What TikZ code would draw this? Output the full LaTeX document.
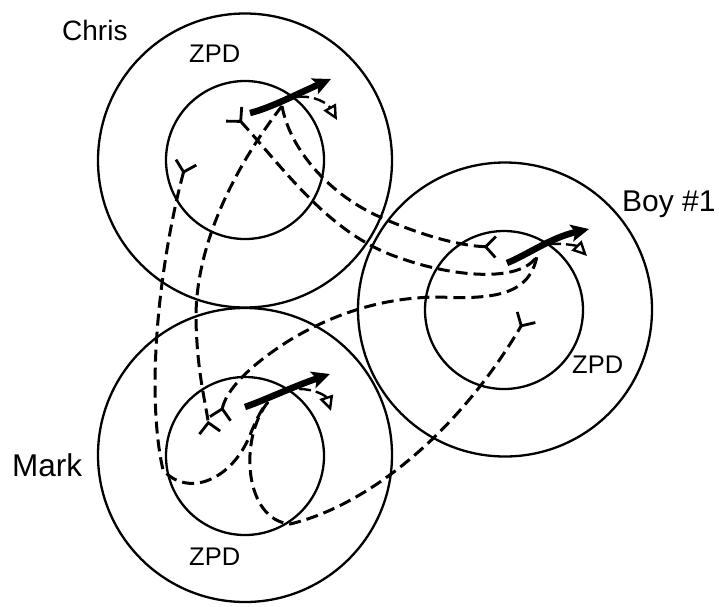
\documentclass[tikz,border=0pt]{standalone}
\usepackage{fontspec}
\setmainfont{Liberation Sans}
\usetikzlibrary{arrows.meta}
\tikzset{
  ytail/.tip={Straight Barb[reversed, length=10pt, width=21pt, line width=2.8pt]},
  opentri/.tip={Triangle[open, length=15pt, width=14pt, line width=2.4pt]},
  bighead/.tip={Stealth[length=18pt, width=17pt, inset=4pt]},
}
\begin{document}
\begin{tikzpicture}[x=1pt,y=-1pt,
  ring/.style={draw, circle, line width=2.3pt, inner sep=0pt},
  outerring/.style={ring, minimum size=294pt},
  innerring/.style={ring, minimum size=158pt},
  dashlink/.style={line width=3pt, dash pattern=on 12pt off 6pt},
  thickarrow/.style={line width=6.5pt, -{bighead}},
  smallarc/.style={line width=2.4pt, dash pattern=on 12pt off 5pt, -{opentri}},
  lbl/.style={inner sep=0pt, anchor=base west},
]
\useasboundingbox (0,0) rectangle (719,606);

% circles
\node[outerring] (chrisO) at (245,160.5) {};
\node[innerring] (chrisI) at (245,160) {};
\node[outerring] (markO) at (245,455) {};
\node[innerring] (markI) at (245,456) {};
\node[outerring] (boyO) at (505,309.5) {};
\node[innerring] (boyI) at (504,310) {};

% labels
\node[lbl, font=\fontsize{28}{28}\selectfont] (chrisName) at (62,40) {Chris};
\node[lbl, font=\fontsize{25.5}{25.5}\selectfont] (chrisZPD) at (189,62) {ZPD};
\node[lbl, font=\fontsize{30}{30}\selectfont] (boyName) at (622,211) {Boy \#1};
\node[lbl, font=\fontsize{25.5}{25.5}\selectfont] (boyZPD) at (572,373) {ZPD};
\node[lbl, font=\fontsize{31.5}{31.5}\selectfont] (markName) at (12,476) {Mark};
\node[lbl, font=\fontsize{25.5}{25.5}\selectfont] (markZPD) at (189,565) {ZPD};

% key points: Chris
\coordinate (cA) at (250,113);
\coordinate (cT) at (331,79);
\coordinate (cE) at (282,106);
\coordinate (cY1) at (233,113);
\coordinate (cY2) at (186.5,161);
\coordinate (cS) at (297,97);
\coordinate (cTri) at (337,120);
% Mark
\coordinate (mA) at (245,407);
\coordinate (mT) at (330,374);
\coordinate (mE) at (268,402);
\coordinate (mY1) at (210,434);
\coordinate (mY2) at (220,420);
\coordinate (mS) at (299,389);
\coordinate (mTri) at (331,411);
% Boy
\coordinate (bA) at (507,263);
\coordinate (bT) at (589,229);
\coordinate (bE) at (537,256);
\coordinate (bY1) at (497,247);
\coordinate (bY2) at (527,316);
\coordinate (bS) at (549,244);
\coordinate (bTri) at (587,256);

% dashed connectors
% Chris (left Y) <- Mark arrow
\draw[dashlink, {ytail}-] (cY2) .. controls (160,260) and (145,390) .. (163,470)
  .. controls (188,498) and (232,480) .. (250,435)
  .. controls (257,418) and (262,408) .. (mE);
% Chris arrow -> Mark Y1
\draw[dashlink, -{ytail}] (cE) .. controls (240,160) and (195,240) .. (196,320)
  .. controls (197,370) and (205,400) .. (mY1);
% Chris arrow -> Boy upper Y
\draw[dashlink, -{ytail}] (cE) .. controls (290,150) and (330,195) .. (380,217)
  .. controls (420,235) and (460,246) .. (bY1);
% Chris upper Y <- Boy arrow
\draw[dashlink, {ytail}-] (cY1) .. controls (285,170) and (330,235) .. (400,258)
  .. controls (450,276) and (520,284) .. (bE);
% Mark Y2 <- Boy arrow
\draw[dashlink, {ytail}-] (mY2) .. controls (226,390) and (250,365) .. (290,340)
  .. controls (340,310) and (390,297) .. (440,297)
  .. controls (500,300) and (530,292) .. (bE);
% Mark arrow -> Boy lower Y
\draw[dashlink, -{ytail}] (mE) .. controls (238,440) and (245,520) .. (290,524)
  .. controls (370,505) and (460,430) .. (bY2);

% small open-triangle arcs
\draw[smallarc] (cS) .. controls (315,95) and (328,104) .. (cTri);
\draw[smallarc] (mS) .. controls (315,389) and (326,396) .. (mTri);
\draw[smallarc] (bS) .. controls (565,243) and (577,246) .. (bTri);

% thick arrows
\draw[thickarrow] (cA) .. controls (270,108) and (295,95) .. (cT);
\draw[thickarrow] (mA) .. controls (265,400) and (292,387) .. (mT);
\draw[thickarrow] (bA) .. controls (527,255) and (550,238) .. (bT);
\end{tikzpicture}
\end{document}
